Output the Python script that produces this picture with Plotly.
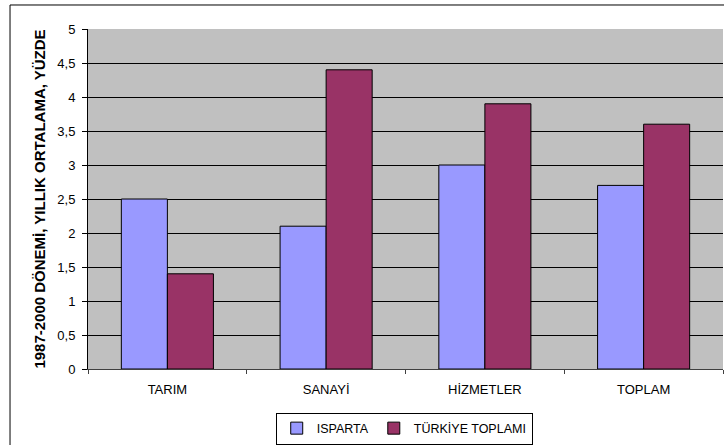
import plotly.graph_objects as go

# values
categories = ["TARIM", "SANAYİ", "HİZMETLER", "TOPLAM"]
isparta = [2.5, 2.1, 3.0, 2.7]
turkiye = [1.4, 4.4, 3.9, 3.6]
y_ticks = [0, 0.5, 1, 1.5, 2, 2.5, 3, 3.5, 4, 4.5, 5]

fig = go.Figure()
fig.add_trace(go.Bar(x=categories, y=isparta, name="ISPARTA",
                     marker=dict(color="#9999FF", line=dict(color="black", width=1))))
fig.add_trace(go.Bar(x=categories, y=turkiye, name="TÜRKİYE TOPLAMI",
                     marker=dict(color="#993366", line=dict(color="black", width=1))))

fig.update_layout(
    width=724, height=445,
    margin=dict(l=88, r=1, t=29, b=76, autoexpand=False),
    paper_bgcolor="white", plot_bgcolor="#C0C0C0",
    font=dict(family="Liberation Sans, Arial, sans-serif", size=13, color="black"),
    separators=", ",
    barmode="group", bargap=0.42, bargroupgap=0,
    showlegend=True,
    legend=dict(orientation="h", xref="paper", x=0.498, xanchor="center",
                yref="container", y=0.073, yanchor="top",
                bordercolor="black", borderwidth=1, font=dict(size=12.5),
                itemwidth=30, tracegroupgap=0, valign="middle"),
)

fig.update_xaxes(
    type="category", tickson="boundaries", ticks="outside", ticklen=4,
    tickcolor="#404040", showline=True, linecolor="#404040", linewidth=1,
    showgrid=False, tickfont=dict(size=13), ticklabelstandoff=8,
)
fig.update_yaxes(
    range=[0, 5], tickvals=y_ticks, ticks="outside", ticklen=5, tickcolor="black",
    showline=True, linecolor="black", linewidth=1,
    showgrid=True, gridcolor="black", gridwidth=1, zeroline=False,
    tickfont=dict(size=13), ticklabelstandoff=4,
    title=dict(text="<b>1987-2000 DÖNEMİ, YILLIK ORTALAMA, YÜZDE</b>",
               font=dict(size=15), standoff=8),
)

# outer chart frame (cut off at the right and bottom in the reference)
fig.add_shape(type="rect", xref="paper", yref="paper",
              x0=-0.1228, x1=1.02, y0=-0.27, y1=1.0706,
              line=dict(color="black", width=1), layer="below")

# drop the default page margin so the figure sits at the window corner
fig.write_html("out.html", config={"displayModeBar": False},
               post_script="document.body.style.margin='0';")
